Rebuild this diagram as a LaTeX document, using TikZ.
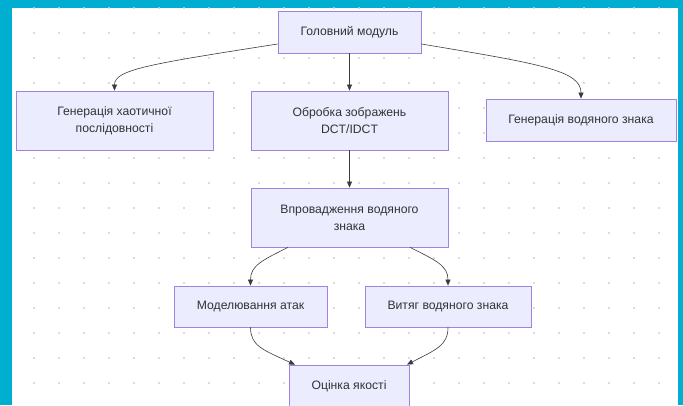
\documentclass[tikz,border=0pt]{standalone}
\usepackage{fontspec}
\setmainfont{Liberation Sans}
\usetikzlibrary{arrows.meta,positioning,calc}
\definecolor{cadre}{RGB}{0,174,210}
\definecolor{fond}{RGB}{236,236,255}
\definecolor{bord}{RGB}{160,130,225}
\definecolor{texte}{RGB}{51,51,51}
\definecolor{point}{RGB}{208,208,208}
\definecolor{fleche}{RGB}{60,60,60}

\begin{document}
\begin{tikzpicture}[x=1pt,y=-1pt,
  bloc/.style={rectangle,draw=bord,fill=fond,text=texte,line width=0.8pt,inner sep=0pt,align=center,font=\fontsize{12.2}{17}\selectfont},
  lien/.style={draw=fleche,line width=0.6pt,-{Triangle[length=6pt,width=5pt]}}]
\useasboundingbox (0,0) rectangle (683,405);
% fond et grille de points
\fill[cadre] (0,0) rectangle (683,405);
\fill[white] (12,8) rectangle (678,405);
\foreach \x in {34,59,...,659}
  \foreach \y in {8,33,...,383}
    \fill[point] (\x,\y) circle (1.1pt);

% description et nommage des noeuds
\node (GM) at (349.5,32) [bloc,minimum width=143pt,minimum height=42pt] {Головний модуль};
\node (GH) at (114.5,120.5) [bloc,minimum width=197pt,minimum height=59pt] {Генерація хаотичної\\послідовності};
\node (OZ) at (349.5,120.5) [bloc,minimum width=197pt,minimum height=59pt] {Обробка зображень\\DCT/IDCT};
\node (GV) at (581,120) [bloc,minimum width=190pt,minimum height=42pt] {Генерація водяного знака};
\node (VV) at (349.5,217.5) [bloc,minimum width=197pt,minimum height=59pt] {Впровадження водяного\\знака};
\node (MA) at (250.5,306.5) [bloc,minimum width=153pt,minimum height=41pt] {Моделювання атак};
\node (VZ) at (448,306.5) [bloc,minimum width=166pt,minimum height=41pt] {Витяг водяного знака};
\node (OJ) at (349,386) [bloc,minimum width=120pt,minimum height=42pt] {Оцінка якості};

% description des arêtes
\draw[lien] (GM) -- (OZ);
\draw[lien] (OZ) -- (VV);
\draw[lien] ([yshift=-12pt]GM.west) .. controls +(-128,20) and +(0,-21) .. (GH.north);
\draw[lien] ([yshift=-12pt]GM.east) .. controls +(120,20) and +(0,-28) .. (GV.north);
\draw[lien] ([xshift=-61.5pt]VV.south) .. controls +(-26,13) and +(0,-20) .. (MA.north);
\draw[lien] ([xshift=60.5pt]VV.south) .. controls +(26,13) and +(0,-20) .. (VZ.north);
\draw[lien] (MA.south) .. controls +(0,18) and +(-33,-15) .. ([xshift=-54pt]OJ.north);
\draw[lien] (VZ.south) .. controls +(0,18) and +(29,-15) .. ([xshift=58pt]OJ.north);
\end{tikzpicture}
\end{document}
